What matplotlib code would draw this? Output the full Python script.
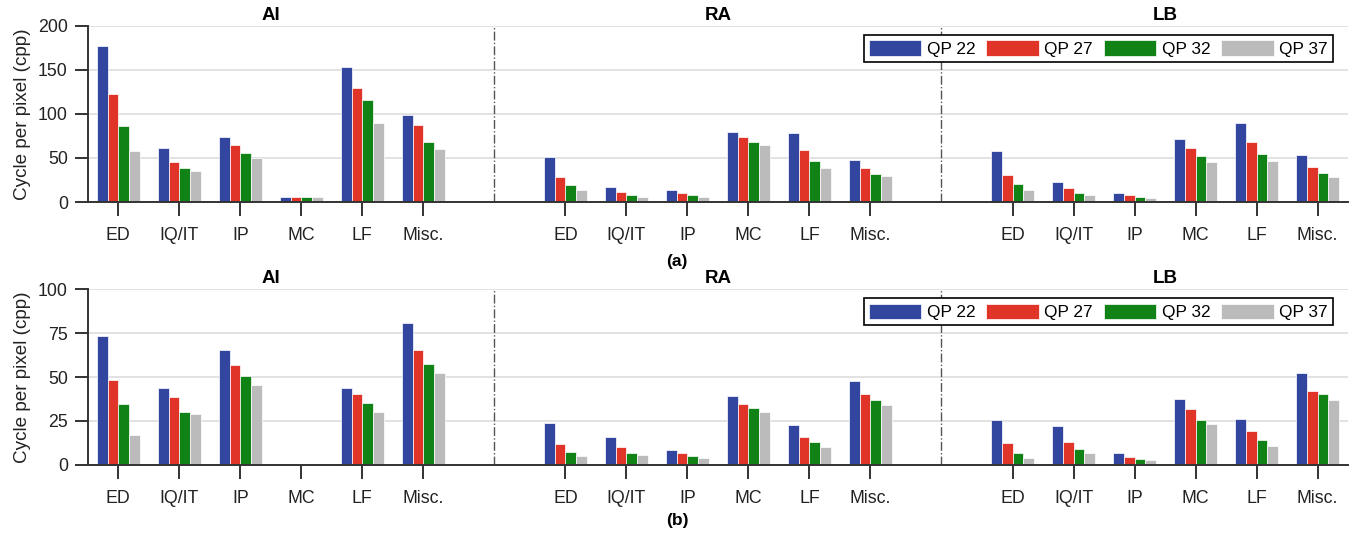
import numpy as np
import matplotlib.pyplot as plt

plt.rcParams['font.family'] = ['Liberation Sans', 'DejaVu Sans']

categories = ['ED', 'IQ/IT', 'IP', 'MC', 'LF', 'Misc.']
groups = ['AI', 'RA', 'LB']
qp_labels = ['QP 22', 'QP 27', 'QP 32', 'QP 37']
colors = ['#3246a0', '#e03428', '#118216', '#bbbbbb']

# (a) rows = QP 22, 27, 32, 37 ; columns = categories
a_ai = [[177, 61, 74, 6, 153, 98.5],
        [123, 45, 64.5, 6, 129, 87],
        [86, 39, 56, 5.3, 116, 68.5],
        [58, 35, 50.5, 5.3, 89.5, 60]]
a_ra = [[51, 17.5, 13.3, 79, 78.5, 47.5],
        [28.5, 11, 9.8, 73.5, 58.7, 38.3],
        [19, 7.6, 7.6, 68.6, 47, 32.2],
        [14, 5.3, 5.3, 65.2, 38.3, 29.2]]
a_lb = [[58, 22.3, 10.2, 72, 89.4, 53],
        [30.3, 15.9, 7.6, 61.4, 67.8, 39.4],
        [20.1, 9.8, 5.7, 52, 54.2, 32.6],
        [13.6, 8, 4.2, 45.8, 46.2, 28]]

# (b)
b_ai = [[73.5, 43.8, 65.2, 0, 43.8, 80.7],
        [48.3, 38.6, 56.8, 0, 40.2, 65.2],
        [34.7, 30.3, 50.8, 0, 35.4, 57.6],
        [17, 29, 45.5, 0, 30.1, 52.3]]
b_ra = [[23.7, 15.9, 8.5, 39, 22.7, 47.5],
        [11.9, 10, 6.8, 34.7, 15.9, 40.3],
        [7.2, 7, 5.1, 32.2, 12.9, 37.1],
        [5.1, 5.7, 3.8, 30.1, 10.2, 33.9]]
b_lb = [[25.6, 22.2, 6.8, 37.7, 26.1, 52.3],
        [12.3, 13.1, 4.5, 31.8, 19.3, 41.9],
        [6.8, 9.1, 3.4, 25.6, 14, 40.3],
        [4, 6.6, 2.8, 23.1, 10.8, 36.9]]

rows = [([a_ai, a_ra, a_lb], 200, [0, 50, 100, 150, 200], '(a)'),
        ([b_ai, b_ra, b_lb], 100, [0, 25, 50, 75, 100], '(b)')]

group_step = 7.33
bar_w = 0.175
dark = '#333333'

fig = plt.figure(figsize=(13.56, 5.38), dpi=100)
ax_pos = [[0.0649, 0.6245, 0.9292, 0.3277],
          [0.0649, 0.1357, 0.9292, 0.3271]]
label_y = [0.5136, 0.0316]

for r, (data, ymax, yticks, tag) in enumerate(rows):
    ax = fig.add_axes(ax_pos[r])
    base = np.arange(len(categories))
    xt, xl = [], []
    for g, vals in enumerate(data):
        x0 = base + g * group_step
        for q in range(4):
            ax.bar(x0 + (q - 1.5) * bar_w, vals[q], width=bar_w,
                   color=colors[q], edgecolor='white', linewidth=0.5,
                   label=qp_labels[q] if g == 0 else None, zorder=3)
        xt += list(x0)
        xl += categories
        ax.text(x0.mean(), 1.012, groups[g], transform=ax.get_xaxis_transform(),
                ha='center', va='bottom', fontsize=13.5, fontweight='bold')
    for g in range(1, 3):
        xd = (5 + (g - 1) * group_step + g * group_step) / 2
        ax.axvline(xd, color='#555555', linestyle='-.', linewidth=1, zorder=2)

    ax.set_xlim(-0.497, 20.16)
    ax.set_ylim(0, ymax)
    ax.set_yticks(yticks)
    ax.set_xticks(xt)
    ax.set_xticklabels(xl)
    ax.yaxis.grid(True, color='#dddddd', linewidth=1.2, zorder=0)
    ax.set_axisbelow(True)
    for s in ['top', 'right']:
        ax.spines[s].set_visible(False)
    for s in ['left', 'bottom']:
        ax.spines[s].set_color(dark)
        ax.spines[s].set_linewidth(1.4)
        ax.spines[s].set_zorder(4)
    ax.tick_params(axis='x', direction='out', length=10, width=1.4, pad=8,
                   colors=dark, labelsize=12.8)
    ax.tick_params(axis='y', direction='out', length=9.5, width=1.4, pad=5,
                   colors=dark, labelsize=12.8)
    for lab in ax.get_xticklabels() + ax.get_yticklabels():
        lab.set_color('#222222')
    ax.set_ylabel('Cycle per pixel (cpp)', fontsize=13.6, color='#222222', labelpad=5)

    leg = ax.legend(loc='upper right', bbox_to_anchor=(0.988, 0.947), ncol=4,
                    fontsize=12.4, frameon=True, fancybox=False, framealpha=1,
                    edgecolor='black', handlelength=3.05, handleheight=1.0,
                    handletextpad=0.3, columnspacing=0.65, borderpad=0.3,
                    borderaxespad=0)
    leg.get_frame().set_linewidth(1.2)

    fig.text(0.4993, label_y[r], tag, ha='center', va='center',
             fontsize=12.5, fontweight='bold')

fig.savefig('out.png', dpi=100)
